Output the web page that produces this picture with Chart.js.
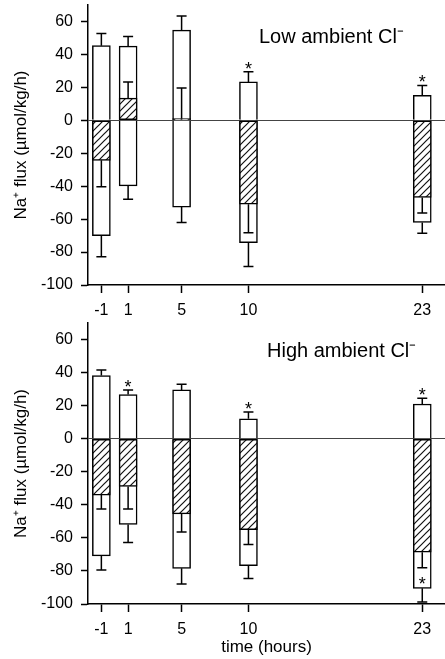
<!DOCTYPE html>
<html><head><meta charset="utf-8">
<script src="https://cdn.jsdelivr.net/npm/chart.js@4.4.0/dist/chart.umd.min.js"></script>
<style>
html,body{margin:0;padding:0;background:#fff;width:445px;height:659px;overflow:hidden;}
canvas{position:absolute;left:0;}
#c1{top:0;} #c2{top:315px;}
</style></head><body>
<canvas id="c1" width="445" height="322"></canvas>
<canvas id="c2" width="445" height="344"></canvas>
<script>
// ---- data ----
const times = [-1, 1, 5, 10, 23];
const xTickValues = [-1, 1, 5, 10, 23];
const yTickValues = [-100, -80, -60, -40, -20, 0, 20, 40, 60];
const panelTitles = ['Low ambient Cl\u207B', 'High ambient Cl\u207B'];
const yAxisTitle = 'Na\u207A flux (\u00B5mol/kg/h)';
const xAxisTitle = 'time (hours)';

const lowInflux    = [45.3, 45.0, 54.7, 23.3, 15.1];
const lowInfluxSe  = [7.4, 5.8, 8.6, 6.1, 6.1];
const lowEfflux    = [-70.0, -39.8, -52.7, -74.3, -62.0];
const lowEffluxSe  = [12.8, 8.2, 9.3, 14.5, 6.6];
const lowNet       = [-24.3, 13.5, 1.0, -51.0, -46.9];
const lowNetSe     = [16.1, 9.8, 18.6, 17.3, 9.4];
const lowInfluxStar = [false, false, false, true, true];
const lowEffluxStar = [false, false, false, false, false];

const highInflux   = [38.2, 26.7, 29.5, 12.1, 21.0];
const highInfluxSe = [3.4, 2.8, 3.4, 4.1, 3.4];
const highEfflux   = [-70.9, -51.9, -78.4, -76.8, -90.5];
const highEffluxSe = [8.5, 10.9, 9.5, 7.8, 8.3];
const highNet      = [-34.1, -28.9, -45.5, -55.0, -68.7];
const highNetSe    = [8.5, 13.7, 10.9, 9.0, 9.3];
const highInfluxStar = [false, true, false, true, true];
const highEffluxStar = [false, false, false, false, true];

Chart.defaults.font.family = '"Liberation Sans", Arial, sans-serif';
Chart.defaults.color = '#000';

function makeHatch() {
  const c = document.createElement('canvas');
  c.width = 7; c.height = 7;
  const g = c.getContext('2d');
  g.fillStyle = '#fff'; g.fillRect(0, 0, 7, 7);
  g.strokeStyle = '#111'; g.lineWidth = 1.2;
  g.beginPath();
  g.moveTo(-1, 8); g.lineTo(8, -1);
  g.moveTo(-1, 1); g.lineTo(1, -1);
  g.moveTo(6, 8); g.lineTo(8, 6);
  g.stroke();
  return g.createPattern(c, 'repeat');
}

function overlay(p, opt) {
  return {
    id: 'overlay',
    afterDatasetsDraw(chart) {
      const {ctx, scales: {x, y}} = chart;
      ctx.save();
      ctx.strokeStyle = '#000';
      ctx.lineWidth = 1.5;
      const err = (xv, a, b) => {
        const px = x.getPixelForValue(xv);
        const y1 = y.getPixelForValue(a), y2 = y.getPixelForValue(b);
        ctx.beginPath();
        ctx.moveTo(px, y1); ctx.lineTo(px, y2);
        ctx.moveTo(px - 5, y2); ctx.lineTo(px + 5, y2);
        ctx.stroke();
      };
      times.forEach((t, i) => {
        err(t, p.influx[i], p.influx[i] + p.influxSe[i]);
        err(t, p.efflux[i], p.efflux[i] - p.effluxSe[i]);
        const s = p.net[i] >= 0 ? 1 : -1;
        err(t, p.net[i], p.net[i] + s * p.netSe[i]);
      });
      ctx.fillStyle = '#000';
      ctx.font = '18px "Liberation Sans", Arial, sans-serif';
      ctx.textAlign = 'center';
      ctx.textBaseline = 'alphabetic';
      times.forEach((t, i) => {
        const px = x.getPixelForValue(t);
        if (p.influxStar[i]) {
          ctx.fillText('*', px, y.getPixelForValue(p.influx[i] + p.influxSe[i]) + 3);
        }
        if (p.effluxStar[i]) {
          ctx.fillText('*', px, y.getPixelForValue(p.efflux[i]) + 2);
        }
      });
      ctx.font = '20px "Liberation Sans", Arial, sans-serif';
      ctx.textAlign = 'left';
      ctx.fillText(p.title, opt.titleX, opt.titleY);
      ctx.restore();
    }
  };
}

function makeChart(id, p, opt) {
  const hatch = makeHatch();
  const common = {borderColor: '#000', borderSkipped: false, barThickness: 18, grouped: false};
  return new Chart(document.getElementById(id), {
    type: 'bar',
    data: {
      datasets: [
        Object.assign({label: 'net', data: times.map((t, i) => ({x: t, y: [0, p.net[i]]})), backgroundColor: hatch, borderWidth: 1.5}, common),
        Object.assign({label: 'influx', data: times.map((t, i) => ({x: t, y: [0, p.influx[i]]})), backgroundColor: '#fff',
          borderWidth: {top: 1.5, left: 1.5, right: 1.5, bottom: 0}}, common),
        Object.assign({label: 'efflux', data: times.map((t, i) => ({x: t, y: [0, p.efflux[i]]})), backgroundColor: '#fff',
          borderWidth: {top: 0, left: 1.5, right: 1.5, bottom: 1.5}}, common)
      ]
    },
    options: {
      responsive: false,
      animation: false,
      layout: {padding: {top: opt.padTop, right: 0, bottom: 0, left: 0}},
      plugins: {legend: {display: false}, tooltip: {enabled: false}},
      scales: {
        x: {
          type: 'linear', min: -2, max: 24.7, offset: false,
          grid: {display: true, drawOnChartArea: false, drawTicks: true, tickLength: 8, tickColor: '#000', tickWidth: 1.5, offset: false},
          border: {display: true, color: '#000', width: 1.5},
          ticks: {font: {size: 16}, color: '#000', padding: 8, autoSkip: false, maxRotation: 0},
          afterBuildTicks: s => { s.ticks = xTickValues.map(v => ({value: v})); },
          afterFit: s => { s.height = opt.xAxisH; s.paddingLeft = 0; s.paddingRight = 0; },
          title: {display: opt.showXTitle, text: xAxisTitle, font: {size: 17}, color: '#000', padding: {top: 0, bottom: 1}}
        },
        y: {
          type: 'linear', min: -100, max: 70,
          ticks: {font: {size: 16}, color: '#000', padding: 8, autoSkip: false},
          afterBuildTicks: s => { s.ticks = yTickValues.map(v => ({value: v})); },
          grid: {
            color: c => (c.tick && c.tick.value === 0) ? '#444' : 'rgba(0,0,0,0)',
            lineWidth: 1, tickColor: '#000', tickLength: 7, tickWidth: 1.5
          },
          border: {display: true, color: '#000', width: 1.5},
          afterFit: s => { s.width = 88; s.paddingTop = 0; s.paddingBottom = 0; },
          title: {display: true, text: yAxisTitle, font: {size: 17}, color: '#000', padding: {top: 11, bottom: 0}}
        }
      }
    },
    plugins: [overlay(p, opt)]
  });
}

makeChart('c1', {
  title: panelTitles[0],
  influx: lowInflux, influxSe: lowInfluxSe,
  efflux: lowEfflux, effluxSe: lowEffluxSe,
  net: lowNet, netSe: lowNetSe,
  influxStar: lowInfluxStar, effluxStar: lowEffluxStar
}, {padTop: 5, xAxisH: 37, showXTitle: false, titleX: 259, titleY: 43});

makeChart('c2', {
  title: panelTitles[1],
  influx: highInflux, influxSe: highInfluxSe,
  efflux: highEfflux, effluxSe: highEffluxSe,
  net: highNet, netSe: highNetSe,
  influxStar: highInfluxStar, effluxStar: highEffluxStar
}, {padTop: 8, xAxisH: 55, showXTitle: true, titleX: 267, titleY: 42});
</script>
</body></html>
